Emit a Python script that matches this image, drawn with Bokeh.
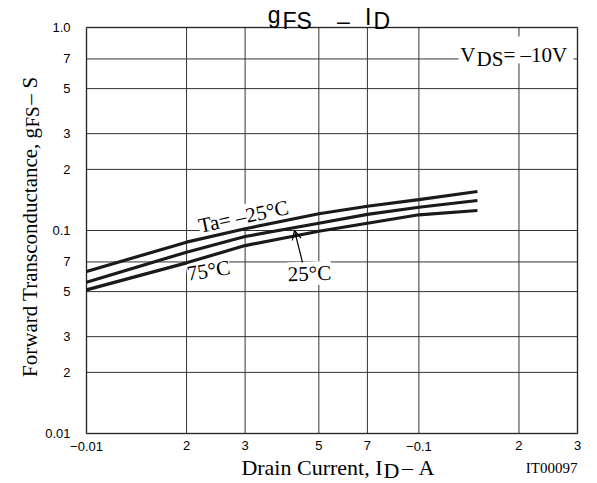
import math
from bokeh.plotting import figure
from bokeh.models import FixedTicker, Label, Arrow, OpenHead, BoxAnnotation, Range1d
from bokeh.embed import file_html
from bokeh.resources import INLINE

# ---------------- data ----------------
drain_current = [0.01, 0.02, 0.03, 0.05, 0.07, 0.1, 0.15]
gfs_m25 = [0.0628, 0.0876, 0.102, 0.1209, 0.1317, 0.142, 0.1556]
gfs_25 = [0.0556, 0.0782, 0.0934, 0.1086, 0.120, 0.1302, 0.1405]
gfs_75 = [0.0510, 0.0693, 0.0843, 0.0992, 0.1086, 0.1195, 0.1255]

x_ticks = [0.01, 0.02, 0.03, 0.05, 0.07, 0.1, 0.2, 0.3]
x_tick_labels = ["\u22120.01", "2", "3", "5", "7", "\u22120.1", "2", "3"]
y_ticks = [0.01, 0.02, 0.03, 0.05, 0.07, 0.1, 0.2, 0.3, 0.5, 0.7, 1.0]
y_tick_labels = ["0.01", "2", "3", "5", "7", "0.1", "2", "3", "5", "7", "1.0"]

# ---------------- layout ----------------
W, H = 597, 483
FL, FT, FR, FB = 86, 27, 577, 433   # plot box edges in canvas pixels
X0, X1 = 0.01, 0.3
Y0, Y1 = 0.01, 1.0

def dx(px):
    lo, hi = math.log10(X0), math.log10(X1)
    return 10 ** (lo + (px - FL) / (FR - FL) * (hi - lo))
def dy(py):
    lo, hi = math.log10(Y0), math.log10(Y1)
    return 10 ** (lo + (FB - py) / (FB - FT) * (hi - lo))

# the frame covers the whole canvas so that outer texts are not clipped
p = figure(width=W, height=H, x_axis_type="log", y_axis_type="log",
           x_range=Range1d(dx(0), dx(W)), y_range=Range1d(dy(H), dy(0)),
           title=None, output_backend="svg", toolbar_location=None,
           min_border_left=0, min_border_right=0,
           min_border_top=0, min_border_bottom=0)
p.outline_line_color = None
p.background_fill_color = "white"
p.border_fill_color = "white"
p.xgrid.visible = False
p.ygrid.visible = False

# axes placed on the plot box edges
p.xaxis.fixed_location = Y0
p.yaxis.fixed_location = X0
plain_x = [t for t, l in zip(x_ticks, x_tick_labels) if not l.startswith("\u2212")]
p.xaxis.ticker = FixedTicker(ticks=plain_x)
p.xaxis.major_label_overrides = {t: l for t, l in zip(x_ticks, x_tick_labels) if t in plain_x}
p.yaxis.ticker = FixedTicker(ticks=y_ticks)
p.yaxis.major_label_overrides = {t: l for t, l in zip(y_ticks, y_tick_labels)}
for ax in (p.xaxis, p.yaxis):
    ax.axis_line_color = None
    ax.major_tick_line_color = None
    ax.minor_tick_line_color = None
    ax.major_label_text_font = "Liberation Sans"
    ax.major_label_text_font_size = "13px"
    ax.major_label_text_color = "black"
p.xaxis.major_label_standoff = 1
p.yaxis.major_label_standoff = 10

# grid lines at the tick values, inside the plot box
p.segment(x0=x_ticks, y0=[Y0] * len(x_ticks), x1=x_ticks, y1=[Y1] * len(x_ticks),
          line_color="#333333", line_width=1, level="image")
p.segment(x0=[X0] * len(y_ticks), y0=y_ticks, x1=[X1] * len(y_ticks), y1=y_ticks,
          line_color="#333333", line_width=1, level="image")


def lab(px, py, text, size, font="Liberation Serif", align="left",
        baseline="alphabetic", angle=0.0, bg=None, level="annotation"):
    p.add_layout(Label(x=dx(px), y=dy(py), text=text, text_font=font,
                       text_font_size=f"{size}px", text_align=align,
                       text_baseline=baseline, angle=angle, text_color="black",
                       background_fill_color=bg, level=level))


# minus-sign tick labels sit slightly lower
for t, l in zip(x_ticks, x_tick_labels):
    if l.startswith("\u2212"):
        p.add_layout(Label(x=t, y=dy(441), text=l, text_font="Liberation Sans",
                           text_font_size="13px", text_align="center",
                           text_baseline="top", text_color="black"))

# VDS box (hides grid)
p.add_layout(BoxAnnotation(left=dx(458), right=dx(573), top=dy(36), bottom=dy(63),
                           fill_color="white", fill_alpha=1.0, line_color=None,
                           level="underlay"))
lab(475, 54, "V", 21, align="right", level="underlay")
lab(476, 58, "DS", 21, level="underlay")
lab(503, 54, "= \u201310V", 21, level="underlay")

# curve labels
lab(243, 216, "Ta= \u201325\u00b0C", 21, align="center", baseline="middle",
    angle=0.21, bg="white", level="underlay")
lab(208, 270, "75\u00b0C", 21, align="center", baseline="middle",
    angle=0.16, bg="white", level="underlay")
lab(309, 273, "25\u00b0C", 21, align="center", baseline="middle",
    angle=0.04, bg="white", level="underlay")

# curves
for ys in (gfs_m25, gfs_25, gfs_75):
    p.line(drain_current, ys, line_color="#1a1a1a", line_width=3.2)

# plot box outline
p.add_layout(BoxAnnotation(left=X0, right=X1, bottom=Y0, top=Y1, fill_alpha=0,
                           line_color="black", line_width=2))

# arrow to the 25 C curve
p.add_layout(Arrow(end=OpenHead(size=9, line_width=1.2, line_color="black"),
                   x_start=dx(302), y_start=dy(262), x_end=dx(294), y_end=dy(230),
                   line_width=1.2, line_color="black"))

# title  g_FS - I_D
lab(280, 14, "g", 23, font="Liberation Sans", align="right")
lab(282, 20, "FS", 23, font="Liberation Sans")
lab(343, 20, "\u2013", 23, font="Liberation Sans", align="center")
lab(371, 16, "I", 23, font="Liberation Sans", align="right")
lab(373, 20, "D", 23, font="Liberation Sans")

# x axis label
lab(382, 467, "Drain Current, I", 22, align="right")
lab(383, 470, "D", 22)
lab(407, 467, "\u2013", 22, align="center")
lab(434, 467, "A", 22, align="right")
lab(577, 467, "IT00097", 15, align="right")

# y axis label (rotated)
R = math.pi / 2
lab(29, 127, "Forward Transconductance, g", 21, align="right", angle=R)
lab(32, 127, "FS", 19, align="left", angle=R)
lab(29, 99, "\u2013", 21, align="center", angle=R)
lab(29, 88, "S", 21, align="left", angle=R)

open("out.html", "w").write(file_html(p, INLINE))
